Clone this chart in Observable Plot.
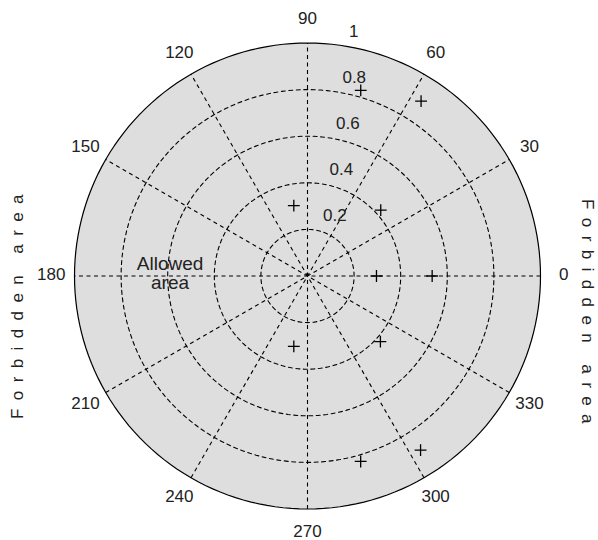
<!DOCTYPE html>
<html><head><meta charset="utf-8">
<script src="https://cdn.jsdelivr.net/npm/d3@7"></script>
<script src="https://cdn.jsdelivr.net/npm/@observablehq/plot@0.6"></script>
<style>body{margin:0;background:#fff;} svg{display:block}</style>
</head><body><div id="chart"></div>
<script>
// Data
const thetaDeg = [0, 0, 42, 57, 74, 101, 259, 286, 303, 318];
const rho = [0.296, 0.535, 0.423, 0.895, 0.829, 0.308, 0.308, 0.828, 0.891, 0.421];
const angleTicks = [0, 30, 60, 90, 120, 150, 180, 210, 240, 270, 300, 330];
const ringTicks = [0.2, 0.4, 0.6, 0.8];
const rLabelValues = [0.2, 0.4, 0.6, 0.8, 1];
const rLabels = ["0.2", "0.4", "0.6", "0.8", "1"];
const spokeAngles = [30, 60, 90, 120, 150, 180];
const sideLabel = "Forbidden area";
const innerLabel = ["Allowed\narea"];
const innerLabelPos = [{x: -0.59, y: 0.012}];
const rMax = 1;
const rLabelAngle = 82;

const rad = d => d * Math.PI / 180;
const points = thetaDeg.map((t, i) => ({x: rho[i] * Math.cos(rad(t)), y: rho[i] * Math.sin(rad(t))}));
const circle = r => d3.range(0, 361, 2).map(a => ({r, x: r * Math.cos(rad(a)), y: r * Math.sin(rad(a))}));
const rings = ringTicks.flatMap(circle);
const outer = circle(rMax);
const spokes = spokeAngles.map(a => ({
  x1: -rMax * Math.cos(rad(a)), y1: -rMax * Math.sin(rad(a)),
  x2: rMax * Math.cos(rad(a)), y2: rMax * Math.sin(rad(a))
}));
const angleLab = angleTicks.map(a => ({x: 1.1 * rMax * Math.cos(rad(a)), y: 1.1 * rMax * Math.sin(rad(a)), t: String(a)}));
const rLab = rLabelValues.map((r, i) => ({x: r * Math.cos(rad(rLabelAngle)), y: r * Math.sin(rad(rLabelAngle)), t: rLabels[i]}));
const inner = innerLabelPos.map((p, i) => ({...p, t: innerLabel[i]}));

const font = "Arial, 'Liberation Sans', sans-serif";
const ink = "#222";

const svg = Plot.plot({
  width: 598,
  height: 540,
  marginLeft: 74,
  marginRight: 58,
  marginTop: 42.5,
  marginBottom: 31.5,
  style: {fontFamily: font, background: "#fff"},
  x: {domain: [-1, 1], axis: null},
  y: {domain: [-1, 1], axis: null},
  marks: [
    Plot.line(outer, {x: "x", y: "y", fill: "#dedede", stroke: "none"}),
    Plot.line(rings, {x: "x", y: "y", z: "r", stroke: "#000", strokeWidth: 1.1, strokeDasharray: "4,3.5"}),
    Plot.link(spokes, {x1: "x1", y1: "y1", x2: "x2", y2: "y2", stroke: "#000", strokeWidth: 1.1, strokeDasharray: "4,3.5"}),
    Plot.line(outer, {x: "x", y: "y", stroke: "#000", strokeWidth: 1.2}),
    Plot.text(angleLab, {x: "x", y: "y", text: "t", fontSize: 17, dy: -1, fill: ink}),
    Plot.text(rLab, {x: "x", y: "y", text: "t", textAnchor: "start", dx: 9, dy: -14, fontSize: 17, fill: ink}),
    Plot.dot(points, {x: "x", y: "y", symbol: "plus", r: 3.9, stroke: "#000", strokeWidth: 1.3}),
    Plot.text(inner, {x: "x", y: "y", text: "t", fontSize: 19, lineHeight: 1.0, fill: ink}),
    Plot.text([sideLabel], {frameAnchor: "left", text: d => d, textAnchor: "start", rotate: -90, dx: -57, dy: 143, fontSize: 17, fill: ink}),
    Plot.text([sideLabel], {frameAnchor: "right", text: d => d, textAnchor: "start", rotate: 90, dx: 47, dy: -77, fontSize: 17, fill: ink})
  ]
});
d3.select(svg).selectAll("text").filter(function() { return this.textContent === sideLabel; }).attr("letter-spacing", "8.4px");
document.getElementById("chart").appendChild(svg);
</script>
</body></html>
